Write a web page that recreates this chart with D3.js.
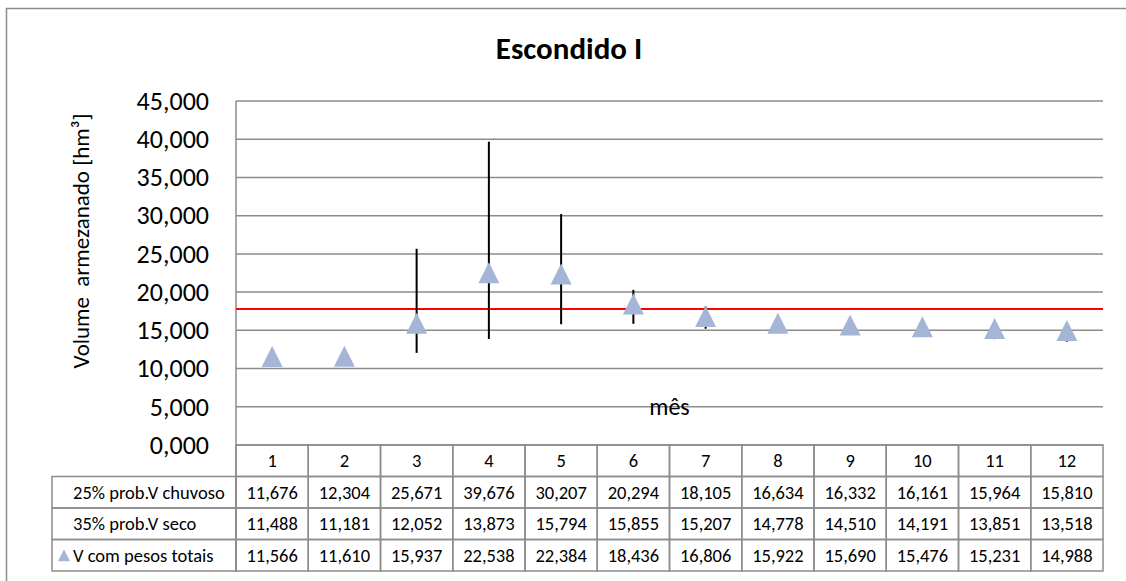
<!DOCTYPE html>
<html><head><meta charset="utf-8">
<script src="https://cdn.jsdelivr.net/npm/d3@7"></script>
<style>body{margin:0;background:#fff}svg{display:block}text{font-family:Carlito,Lato,"Liberation Sans",sans-serif}</style>
</head><body><svg id="c" width="1126" height="581"></svg>
<script>
const months = ["1","2","3","4","5","6","7","8","9","10","11","12"];
const wetValues = [11.676,12.304,25.671,39.676,30.207,20.294,18.105,16.634,16.332,16.161,15.964,15.810];
const dryValues = [11.488,11.181,12.052,13.873,15.794,15.855,15.207,14.778,14.510,14.191,13.851,13.518];
const totalValues = [11.566,11.610,15.937,22.538,22.384,18.436,16.806,15.922,15.690,15.476,15.231,14.988];
const seriesNames = ["25% prob.V chuvoso","35% prob.V seco","V com pesos totais"];
const yTicks = [0,5,10,15,20,25,30,35,40,45];
const refLine = 17.8;
const title = "Escondido I";
const yTitle = "Volume  armezanado [hm³]";
const xTitle = "mês";

const svg = d3.select("#c");
const L=236, R=1103, T=101, B=445;
const x = d3.scaleBand().domain(months).range([L,R]);
const y = d3.scaleLinear().domain([0,45]).range([B,T]);
const fmtTick = v => d3.format(".3f")(v).replace(".",",");
const grid = "#8c8c8c", tri = "#a5b5d6";

svg.append("rect").attr("x",6.5).attr("y",8.5).attr("width",1140).attr("height",600)
  .attr("fill","none").attr("stroke",grid).attr("stroke-width",1.5);

svg.append("text").attr("x",569).attr("y",59).attr("text-anchor","middle")
  .attr("font-size",31).attr("font-weight","bold").text(title);

svg.append("g").selectAll("line").data(yTicks).join("line")
  .attr("x1",L).attr("x2",R).attr("y1",d=>y(d)).attr("y2",d=>y(d))
  .attr("stroke",grid).attr("stroke-width",1.5);
const ya = svg.append("g").attr("transform",`translate(${L},0)`)
  .call(d3.axisLeft(y).tickValues(yTicks).tickFormat(fmtTick).tickSize(0).tickPadding(27));
ya.select(".domain").remove();
ya.selectAll("text").attr("font-size",26).attr("fill","#000").attr("font-family","Carlito,Lato,sans-serif");
svg.append("line").attr("x1",L).attr("x2",L).attr("y1",T).attr("y2",571).attr("stroke",grid).attr("stroke-width",1.5);

svg.append("text").attr("transform","translate(89,241) rotate(-90)").attr("text-anchor","middle")
  .attr("font-size",23).style("white-space","pre").text(yTitle);

svg.append("text").attr("x",(L+R)/2).attr("y",y(5)+8).attr("text-anchor","middle")
  .attr("font-size",24).text(xTitle);

svg.append("line").attr("x1",L).attr("x2",R).attr("y1",y(refLine)).attr("y2",y(refLine))
  .attr("stroke","#ff0000").attr("stroke-width",2);

const cx = m => x(m)+x.bandwidth()/2;
svg.append("g").selectAll("line").data(months).join("line")
  .attr("x1",cx).attr("x2",cx).attr("y1",(d,i)=>y(wetValues[i])).attr("y2",(d,i)=>y(dryValues[i]))
  .attr("stroke","#000").attr("stroke-width",2);

const triPath = (s) => `M0,${-s/2}L${s/2},${s/2}L${-s/2},${s/2}Z`;
svg.append("g").selectAll("path").data(months).join("path")
  .attr("d",triPath(21)).attr("fill",tri)
  .attr("transform",(d,i)=>`translate(${cx(d)},${y(totalValues[i])})`);

const rowH = 31.5, tTop = B, fs = 18.5;
const tb = svg.append("g");
const rows = [wetValues, dryValues, totalValues];
months.forEach(m=>{
  tb.append("rect").attr("x",x(m)).attr("y",tTop).attr("width",x.bandwidth()).attr("height",rowH)
    .attr("fill","none").attr("stroke",grid).attr("stroke-width",1.5);
  tb.append("text").attr("x",cx(m)).attr("y",tTop+rowH/2+6.5).attr("text-anchor","middle")
    .attr("font-size",fs).text(m);
});
rows.forEach((vals,r)=>{
  const ry = tTop+rowH*(r+1);
  tb.append("rect").attr("x",52).attr("y",ry).attr("width",L-52).attr("height",rowH)
    .attr("fill","none").attr("stroke",grid).attr("stroke-width",1.5);
  tb.append("text").attr("x",73).attr("y",ry+rowH/2+6.5).attr("font-size",fs).text(seriesNames[r]);
  months.forEach((m,i)=>{
    tb.append("rect").attr("x",x(m)).attr("y",ry).attr("width",x.bandwidth()).attr("height",rowH)
      .attr("fill","none").attr("stroke",grid).attr("stroke-width",1.5);
    tb.append("text").attr("x",cx(m)).attr("y",ry+rowH/2+6.5).attr("text-anchor","middle")
      .attr("font-size",fs).text(fmtTick(vals[i]));
  });
});
tb.append("path").attr("d",triPath(12)).attr("fill",tri)
  .attr("transform",`translate(64,${tTop+rowH*3+rowH/2})`);
</script></body></html>
